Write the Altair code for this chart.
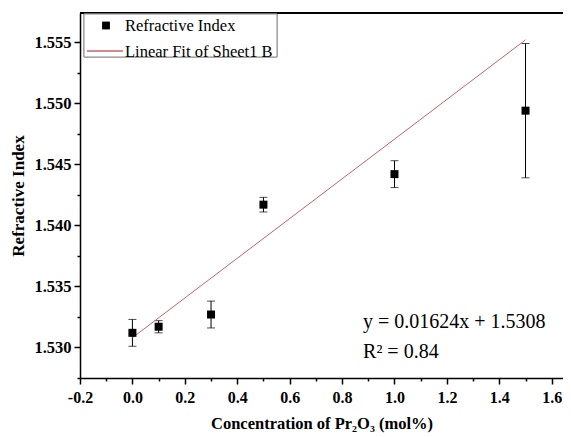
import altair as alt
import pandas as pd

# data
conc = [0.0, 0.1, 0.3, 0.5, 1.0, 1.5]
ri = [1.5312, 1.5317, 1.5327, 1.5417, 1.5442, 1.5494]
err = [0.0011, 0.0005, 0.0011, 0.0006, 0.0011, 0.0055]

fit_x = [0.0, 1.5]
fit_y = [1.5308, 1.5552]

x_ticks = [-0.2, -0.1, 0.0, 0.1, 0.2, 0.3, 0.4, 0.5, 0.6, 0.7, 0.8, 0.9,
           1.0, 1.1, 1.2, 1.3, 1.4, 1.5, 1.6]
y_ticks = [1.5275, 1.530, 1.5325, 1.535, 1.5375, 1.540, 1.5425, 1.545,
           1.5475, 1.550, 1.5525, 1.555]

S1 = "Refractive Index"
S2 = "Linear Fit of Sheet1 B"
FIT_COLOR = "#c2636c"

pts = pd.DataFrame({"x": conc, "y": ri,
                    "lo": [a - b for a, b in zip(ri, err)],
                    "hi": [a + b for a, b in zip(ri, err)]})
fit = pd.DataFrame({"x": fit_x, "y": fit_y})

W, H = 483, 365
FONT = "Liberation Serif"
xdom = [-0.2, 1.643]
ydom = [1.5275, 1.5574]

x_major = "abs(datum.value*5 - round(datum.value*5)) < 0.01"
y_major = "abs(datum.value*200 - round(datum.value*200)) < 0.01"

xaxis = alt.Axis(
    values=x_ticks, title="Concentration of Pr₂O₃  (mol%)",
    labelExpr=f"{x_major} ? replace(format(datum.value, '.1f'), '\u2212', '-') : ''",
    tickSize={"condition": {"test": x_major, "value": 6}, "value": 3},
    labelFont=FONT, labelFontWeight="bold", labelFontSize=16, labelColor="black",
    titleFont=FONT, titleFontWeight="bold", titleFontSize=16.5, titleColor="black",
    domainColor="black", domainWidth=1.5, tickColor="black", tickWidth=1.5,
    labelPadding=5, titlePadding=10, grid=False, labelFlush=False,
    labelOverlap=False,
)
yaxis = alt.Axis(
    values=y_ticks, title="Refractive Index",
    labelExpr=f"{y_major} ? format(datum.value, '.3f') : ''",
    tickSize={"condition": {"test": y_major, "value": 6}, "value": 3},
    labelFont=FONT, labelFontWeight="bold", labelFontSize=16.5, labelColor="black",
    titleFont=FONT, titleFontWeight="bold", titleFontSize=17, titleColor="black",
    domainColor="black", domainWidth=1.5, tickColor="black", tickWidth=1.5,
    labelPadding=3, titlePadding=6, grid=False, labelFlush=False,
    labelOverlap=False,
)

xs = alt.Scale(domain=xdom, nice=False, zero=False)
ys = alt.Scale(domain=ydom, nice=False, zero=False)

X = alt.X("x:Q", scale=xs, axis=xaxis)

bars = alt.Chart(pts).mark_rule(color="black", strokeWidth=1).encode(
    x=X, y=alt.Y("lo:Q", scale=ys, axis=yaxis), y2="hi:Q")

fit_line = alt.Chart(fit).mark_line(strokeWidth=1, color=FIT_COLOR).encode(
    x=X, y=alt.Y("y:Q", scale=ys, axis=yaxis))

cap_lo = alt.Chart(pts).mark_tick(color="black", orient="horizontal", size=8,
                                  thickness=1).encode(
    x=X, y=alt.Y("lo:Q", scale=ys, axis=yaxis))
cap_hi = alt.Chart(pts).mark_tick(color="black", orient="horizontal", size=8,
                                  thickness=1).encode(
    x=X, y=alt.Y("hi:Q", scale=ys, axis=yaxis))

points = alt.Chart(pts).mark_square(size=64, opacity=1, filled=True,
                                    color="black").encode(
    x=X, y=alt.Y("y:Q", scale=ys, axis=yaxis))

eq_df = pd.DataFrame({"x": [0.88, 0.88], "y": [1.5321, 1.5296],
                      "t": ["y  = 0.01624x + 1.5308", "R² = 0.84"]})
eq = alt.Chart(eq_df).mark_text(align="left", baseline="middle", font=FONT,
                                 fontSize=20, color="black").encode(
    x=X, y=alt.Y("y:Q", scale=ys, axis=yaxis), text="t:N")

top = alt.Chart(pts).mark_rule(color="black", strokeWidth=1.5).encode(
    x=alt.value(0), x2=alt.value(W), y=alt.value(0))

# legend (drawn as decoration in the top-left corner of the plot)
leg_df = pd.DataFrame({"label": [S1, S2]})
leg_box = alt.Chart(leg_df).mark_rect(fill="white", stroke="#8a8a8a",
                                      strokeWidth=1).encode(
    x=alt.value(4), x2=alt.value(197), y=alt.value(1), y2=alt.value(44))
leg_sq = alt.Chart(leg_df).mark_square(size=56, color="black", opacity=1,
                                       filled=True).encode(
    x=alt.value(26), y=alt.value(12.5))
leg_ln = alt.Chart(leg_df).mark_rule(color=FIT_COLOR, strokeWidth=1).encode(
    x=alt.value(7), x2=alt.value(43), y=alt.value(38))
leg_t1 = alt.Chart(pd.DataFrame({"t": [S1]})).mark_text(
    align="left", baseline="middle", font=FONT, fontSize=16.5, color="black").encode(
    x=alt.value(45), y=alt.value(12.5), text="t:N")
leg_t2 = alt.Chart(pd.DataFrame({"t": [S2]})).mark_text(
    align="left", baseline="middle", font=FONT, fontSize=16.5, color="black").encode(
    x=alt.value(45), y=alt.value(38.5), text="t:N")

chart = alt.layer(bars, cap_lo, cap_hi, fit_line, points, eq, top,
                  leg_box, leg_sq, leg_ln, leg_t1, leg_t2).properties(
    width=W, height=H,
    autosize=alt.AutoSizeParams(type="none"),
    padding={"left": 72, "top": 5, "right": 0, "bottom": 58},
).configure_view(stroke=None).configure(background="white")

chart.save("out.html", embed_options={"renderer": "svg", "actions": False})
